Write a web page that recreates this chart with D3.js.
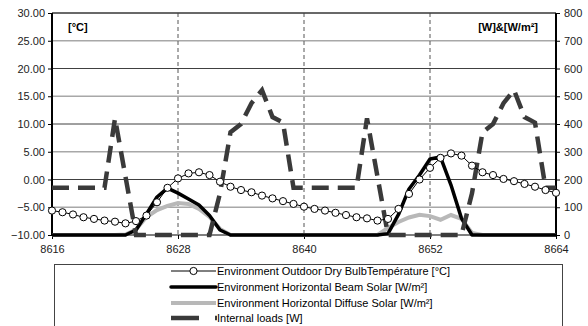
<!DOCTYPE html>
<html>
<head>
<meta charset="utf-8">
<script src="https://cdn.jsdelivr.net/npm/d3@7"></script>
<style>
  body { margin: 0; background: #fff; }
  text { font-family: "Liberation Sans", Arial, sans-serif; }
</style>
</head>
<body>
<svg width="588" height="326"></svg>
<script>
// hours on the x axis
var hours = d3.range(8616, 8665);

// outdoor dry bulb temperature [°C], one value per hour
var temperature = [-5.6, -5.9, -6.3, -6.8, -7.1, -7.4, -7.6, -7.9, -7.5, -6.5,
  -4.1, -1.5, 0.2, 1.1, 1.3, 0.8, -0.4, -1.3, -1.9, -2.3,
  -2.9, -3.4, -3.9, -4.4, -4.9, -5.3, -5.6, -6.0, -6.4, -6.8,
  -7.0, -7.4, -7.1, -5.3, -2.6, 0.0, 2.1, 3.9, 4.7, 4.3,
  2.5, 1.3, 0.8, 0.1, -0.3, -0.8, -1.3, -1.9, -2.4];

// horizontal beam solar [W/m²]
var beamSolar = [0, 0, 0, 0, 0, 0, 0, 0, 18, 76,
  137, 169, 151, 130, 108, 70, 18, 0, 0, 0,
  0, 0, 0, 0, 0, 0, 0, 0, 0, 0,
  0, 0, 5, 74, 166, 216, 274, 281, 180, 60,
  0, 0, 0, 0, 0, 0, 0, 0, 0];

// horizontal diffuse solar [W/m²]
var diffuseSolar = [0, 0, 0, 0, 0, 0, 0, 2, 20, 65,
  90, 105, 115, 112, 94, 65, 22, 0, 0, 0,
  0, 0, 0, 0, 0, 0, 0, 0, 0, 0,
  0, 0, 25, 47, 63, 73, 68, 55, 72, 58,
  7, 0, 0, 0, 0, 0, 0, 0, 0];

// internal loads [W]
var internalLoads = [170, 170, 170, 170, 170, 170, 420, 210, 0, 0,
  0, 0, 0, 0, 0, 0, 150, 370, 400, 475,
  522, 425, 405, 170, 170, 170, 170, 170, 170, 170,
  420, 210, 0, 0, 0, 0, 0, 0, 0, 0,
  150, 370, 400, 475, 522, 425, 405, 170, 170];

var xTicks = [8616, 8628, 8640, 8652, 8664];
var leftTicks = [-10, -5, 0, 5, 10, 15, 20, 25, 30];
var rightTicks = [0, 100, 200, 300, 400, 500, 600, 700, 800];

var legendLabels = [
  "Environment Outdoor Dry BulbTempérature [°C]",
  "Environment Horizontal Beam Solar [W/m²]",
  "Environment Horizontal Diffuse Solar [W/m²]",
  "Internal loads [W]"
];

var svg = d3.select("svg");
// plot box
var box = { left: 52, right: 556, top: 13, bottom: 235 };

var x = d3.scaleLinear().domain([8616, 8664]).range([box.left, box.right]);
var yL = d3.scaleLinear().domain([-10, 30]).range([box.bottom, box.top]);
var yR = d3.scaleLinear().domain([0, 800]).range([box.bottom, box.top]);

// horizontal gridlines, light and dark alternating
svg.append("g").selectAll("line")
  .data(leftTicks.slice(1))
  .enter().append("line")
  .attr("x1", box.left).attr("x2", box.right)
  .attr("y1", d => yL(d)).attr("y2", d => yL(d))
  .attr("stroke", d => (d % 10 === 0) ? "#404040" : "#a8a8a8")
  .attr("stroke-width", d => (d % 10 === 0) ? 1 : 1.6);

// vertical dashed gridlines
svg.append("g").selectAll("line")
  .data(xTicks.slice(1, -1))
  .enter().append("line")
  .attr("x1", d => x(d)).attr("x2", d => x(d))
  .attr("y1", box.top).attr("y2", box.bottom)
  .attr("stroke", "#555")
  .attr("stroke-width", 1)
  .attr("stroke-dasharray", "4,3");

// axes
var axL = svg.append("g").attr("transform", "translate(" + box.left + ",0)")
  .call(d3.axisLeft(yL).tickValues(leftTicks).tickSize(4).tickPadding(3).tickFormat(d3.format(".2f")));
var axR = svg.append("g").attr("transform", "translate(" + box.right + ",0)")
  .call(d3.axisRight(yR).tickValues(rightTicks).tickSize(4).tickPadding(4));
var axB = svg.append("g").attr("transform", "translate(0," + box.bottom + ")")
  .call(d3.axisBottom(x).tickValues(xTicks).tickSize(4).tickPadding(6).tickFormat(d3.format("d")));

[axL, axR, axB].forEach(function (a) {
  a.select(".domain").remove();
  a.selectAll("text").attr("font-size", 11).attr("fill", "#222")
    .style("font-family", "'Liberation Sans', Arial, sans-serif");
  a.selectAll(".tick line").attr("stroke", "#000");
});

// frame
svg.append("line").attr("x1", box.left).attr("x2", box.right).attr("y1", box.top).attr("y2", box.top)
  .attr("stroke", "#333").attr("stroke-width", 1);
svg.append("line").attr("x1", box.left).attr("x2", box.right).attr("y1", box.bottom).attr("y2", box.bottom)
  .attr("stroke", "#000").attr("stroke-width", 1);
svg.append("line").attr("x1", box.left).attr("x2", box.left).attr("y1", box.top).attr("y2", box.bottom)
  .attr("stroke", "#000").attr("stroke-width", 2);
svg.append("line").attr("x1", box.right).attr("x2", box.right).attr("y1", box.top).attr("y2", box.bottom)
  .attr("stroke", "#000").attr("stroke-width", 2);

// units
svg.append("text").attr("x", 68).attr("y", 31).attr("font-size", 11).attr("font-weight", "bold")
  .text("[°C]");
svg.append("text").attr("x", 538).attr("y", 31).attr("font-size", 11).attr("font-weight", "bold")
  .attr("text-anchor", "end").text("[W]&[W/m²]");

var lineR = function (vals) {
  return d3.line().x((d, i) => x(hours[i])).y(d => yR(d))(vals);
};

// diffuse solar
svg.append("path").attr("d", lineR(diffuseSolar))
  .attr("fill", "none").attr("stroke", "#b8b8b8").attr("stroke-width", 4);

// beam solar
svg.append("path").attr("d", lineR(beamSolar))
  .attr("fill", "none").attr("stroke", "#000").attr("stroke-width", 3.5)
  .attr("stroke-linejoin", "round");

// internal loads
svg.append("path").attr("d", lineR(internalLoads))
  .attr("fill", "none").attr("stroke", "#3a3a3a").attr("stroke-width", 4.5)
  .attr("stroke-dasharray", "17,9");

// temperature
svg.append("path")
  .attr("d", d3.line().x((d, i) => x(hours[i])).y(d => yL(d))(temperature))
  .attr("fill", "none").attr("stroke", "#000").attr("stroke-width", 1);
svg.append("g").selectAll("circle")
  .data(temperature)
  .enter().append("circle")
  .attr("cx", (d, i) => x(hours[i]))
  .attr("cy", d => yL(d))
  .attr("r", 3.6)
  .attr("fill", "#fff").attr("stroke", "#000").attr("stroke-width", 1);

// legend
svg.append("rect").attr("x", 54.5).attr("y", 264.5).attr("width", 508).attr("height", 80)
  .attr("fill", "none").attr("stroke", "#444").attr("stroke-width", 1);

var lg = svg.append("g");
var rowY = [271, 287, 303, 318];
var sx1 = 171, sx2 = 216;

lg.append("line").attr("x1", sx1).attr("x2", sx2).attr("y1", rowY[0]).attr("y2", rowY[0])
  .attr("stroke", "#000").attr("stroke-width", 1);
lg.append("circle").attr("cx", (sx1 + sx2) / 2).attr("cy", rowY[0]).attr("r", 3.6)
  .attr("fill", "#fff").attr("stroke", "#000");
lg.append("line").attr("x1", sx1).attr("x2", sx2).attr("y1", rowY[1]).attr("y2", rowY[1])
  .attr("stroke", "#000").attr("stroke-width", 3.5).attr("stroke-linecap", "round");
lg.append("line").attr("x1", sx1).attr("x2", sx2).attr("y1", rowY[2]).attr("y2", rowY[2])
  .attr("stroke", "#b8b8b8").attr("stroke-width", 4);
lg.append("line").attr("x1", sx1).attr("x2", sx2 + 1).attr("y1", rowY[3]).attr("y2", rowY[3])
  .attr("stroke", "#3a3a3a").attr("stroke-width", 4.5).attr("stroke-dasharray", "28,16");

lg.selectAll("text.lbl")
  .data(legendLabels)
  .enter().append("text")
  .attr("class", "lbl")
  .attr("x", sx2 + 1)
  .attr("y", (d, i) => rowY[i] + 4)
  .attr("font-size", 11)
  .attr("fill", "#000")
  .text(d => d);
</script>
</body>
</html>
